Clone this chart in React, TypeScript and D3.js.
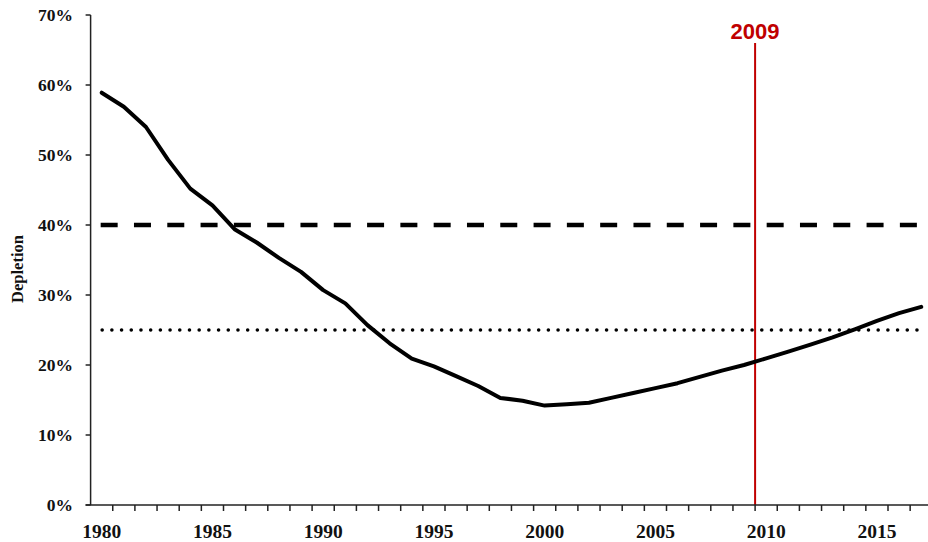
import React from "react";
import * as d3 from "d3";

const years: number[] = [
  1980, 1981, 1982, 1983, 1984, 1985, 1986, 1987, 1988, 1989,
  1990, 1991, 1992, 1993, 1994, 1995, 1996, 1997, 1998, 1999,
  2000, 2001, 2002, 2003, 2004, 2005, 2006, 2007, 2008, 2009,
  2010, 2011, 2012, 2013, 2014, 2015, 2016, 2017,
];
const depletion: number[] = [
  0.589, 0.569, 0.540, 0.493, 0.452, 0.428, 0.394, 0.375, 0.353, 0.333,
  0.307, 0.288, 0.257, 0.231, 0.209, 0.198, 0.184, 0.170, 0.153, 0.149,
  0.142, 0.144, 0.146, 0.153, 0.160, 0.167, 0.174, 0.183, 0.192, 0.200,
  0.2095, 0.219, 0.229, 0.2395, 0.251, 0.263, 0.274, 0.283,
];
const yTicks: number[] = [0, 0.1, 0.2, 0.3, 0.4, 0.5, 0.6, 0.7];
const xLabelYears: number[] = [1980, 1985, 1990, 1995, 2000, 2005, 2010, 2015];
const targetLevel = 0.4;
const limitLevel = 0.25;
const markerYear = 2009;
const markerLabel = "2009";
const yTitle = "Depletion";

const W = 928;
const H = 542;
const left = 90.6;
const right = 932.3;
const top = 15;
const bottom = 505;

export default function App() {
  const x = d3.scaleBand<number>().domain(years).range([left, right]).padding(0);
  const bw = x.bandwidth();
  const cx = (yr: number) => (x(yr) as number) + bw / 2;
  const y = d3.scaleLinear().domain([0, 0.7]).range([bottom, top]);

  const line = d3
    .line<number>()
    .x((_, i) => cx(years[i]))
    .y((d) => y(d));

  const refStart = cx(years[0]) - 1;
  const refEnd = cx(years[years.length - 1]) - 3;
  const markerX = (x(markerYear) as number) + bw;

  const serif = "'Liberation Serif', 'Times New Roman', serif";

  return (
    <svg width={W} height={H} style={{ position: "absolute", left: 0, top: 0, background: "#fff" }}>
      {/* reference lines */}
      <line x1={refStart} x2={refEnd} y1={y(targetLevel)} y2={y(targetLevel)}
        stroke="#000" strokeWidth={4.5} strokeDasharray="17,16.3" />
      <line x1={refStart + 1.5} x2={refEnd} y1={y(limitLevel)} y2={y(limitLevel)}
        stroke="#000" strokeWidth={3.6} strokeDasharray="0,9.7" strokeLinecap="round" />

      {/* marker */}
      <line x1={markerX} x2={markerX} y1={43} y2={bottom} stroke="#c00000" strokeWidth={2} />
      <text x={markerX} y={39} textAnchor="middle" fill="#c00000"
        fontFamily="'Liberation Sans', Arial, sans-serif" fontWeight="bold" fontSize={22}>
        {markerLabel}
      </text>

      {/* series */}
      <path d={line(depletion) || ""} fill="none" stroke="#000" strokeWidth={4}
        strokeLinejoin="round" strokeLinecap="round" />

      {/* axes */}
      <line x1={left} x2={left} y1={top} y2={bottom} stroke="#222" strokeWidth={1.5} />
      <line x1={left - 5} x2={W} y1={bottom} y2={bottom} stroke="#222" strokeWidth={1.5} />
      {yTicks.map((t) => (
        <g key={t}>
          <line x1={left - 5} x2={left} y1={y(t)} y2={y(t)} stroke="#222" strokeWidth={1.5} />
          <text x={73} y={y(t) + 6} textAnchor="end" fontFamily={serif} fontWeight="bold"
            fontSize={17.5} fill="#111">
            {`${Math.round(t * 100)}%`}
          </text>
        </g>
      ))}
      {years.map((yr) => (
        <line key={yr} x1={(x(yr) as number) + bw} x2={(x(yr) as number) + bw}
          y1={bottom} y2={bottom + 6} stroke="#222" strokeWidth={1.5} />
      ))}
      {xLabelYears.map((yr) => (
        <text key={yr} x={cx(yr)} y={538} textAnchor="middle" fontFamily={serif}
          fontWeight="bold" fontSize={19.5} fill="#111">
          {yr}
        </text>
      ))}
      <text transform={`translate(23, 269) rotate(-90)`} textAnchor="middle"
        fontFamily={serif} fontWeight="bold" fontSize={16.5} fill="#111">
        {yTitle}
      </text>
    </svg>
  );
}
